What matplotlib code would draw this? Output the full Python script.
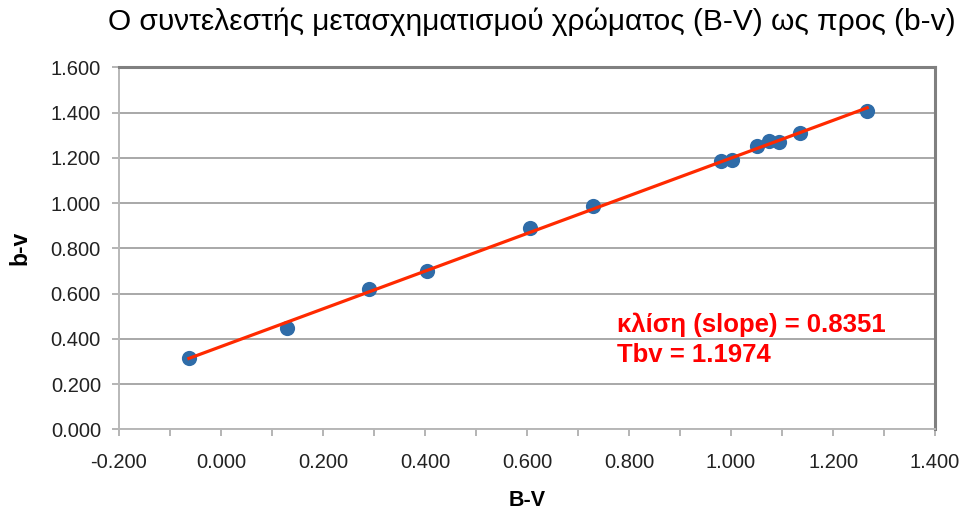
import numpy as np
import matplotlib
matplotlib.use("Agg")
import matplotlib.pyplot as plt
from matplotlib.ticker import MultipleLocator, FormatStrFormatter

plt.rcParams['font.family'] = ['Liberation Sans', 'DejaVu Sans']

# B-V vs b-v
bv_std = [-0.063, 0.129, 0.290, 0.404, 0.606, 0.729, 0.980, 1.002,
          1.051, 1.075, 1.094, 1.135, 1.267]
bv_inst = [0.315, 0.447, 0.619, 0.699, 0.889, 0.986, 1.185, 1.190,
           1.251, 1.273, 1.269, 1.309, 1.406]
title = "Ο συντελεστής μετασχηματισμού χρώματος (B-V) ως προς (b-v)"
note_lines = ["κλίση (slope) = 0.8351", "Tbv = 1.1974"]

x = np.array(bv_std)
y = np.array(bv_inst)
k, b = np.polyfit(x, y, 1)  # linear trendline
xl = np.array([x.min(), x.max()])

fig = plt.figure(figsize=(9.65, 5.11), dpi=100)
ax = fig.add_axes([0.1233, 0.160, 0.969 - 0.1233, 0.868 - 0.160])

ax.scatter(x, y, s=120, color='#2F6CA8', zorder=3, linewidths=0)
ax.plot(xl, k * xl + b, color='#FF2A00', lw=2.3, zorder=4)

ax.set_xlim(-0.2, 1.4)
ax.set_ylim(0, 1.6)
ax.xaxis.set_major_locator(MultipleLocator(0.2))
ax.xaxis.set_minor_locator(MultipleLocator(0.1))
ax.yaxis.set_major_locator(MultipleLocator(0.2))
ax.xaxis.set_major_formatter(FormatStrFormatter('%.3f'))
ax.yaxis.set_major_formatter(FormatStrFormatter('%.3f'))
ax.grid(axis='y', color='#A8A8A8', lw=1.4)
ax.set_axisbelow(True)

ax.tick_params(axis='both', which='both', direction='out', length=5,
               color='#A8A8A8', width=1.2, labelsize=14.5, labelcolor='#222222')
ax.tick_params(axis='x', pad=12)
ax.tick_params(axis='y', pad=8)

for side in ['left', 'bottom']:
    ax.spines[side].set_color('#B8B8B8')
    ax.spines[side].set_linewidth(1.4)
for side in ['top', 'right']:
    ax.spines[side].set_color('#808080')
    ax.spines[side].set_linewidth(2.2)

ax.set_xlabel("B-V", fontsize=15.5, fontweight='bold', labelpad=13)
ax.set_ylabel("b-v", fontsize=16.5, fontweight='bold', labelpad=14)
fig.text(0.551, 0.957, title, fontsize=21.5, ha='center', va='center')

ax.text(0.776, 0.461, note_lines[0], color='#FF0000',
        fontsize=18.5, fontweight='bold', va='center')
ax.text(0.776, 0.329, note_lines[1], color='#FF0000',
        fontsize=18.5, fontweight='bold', va='center')

fig.savefig("out.png", dpi=100)
